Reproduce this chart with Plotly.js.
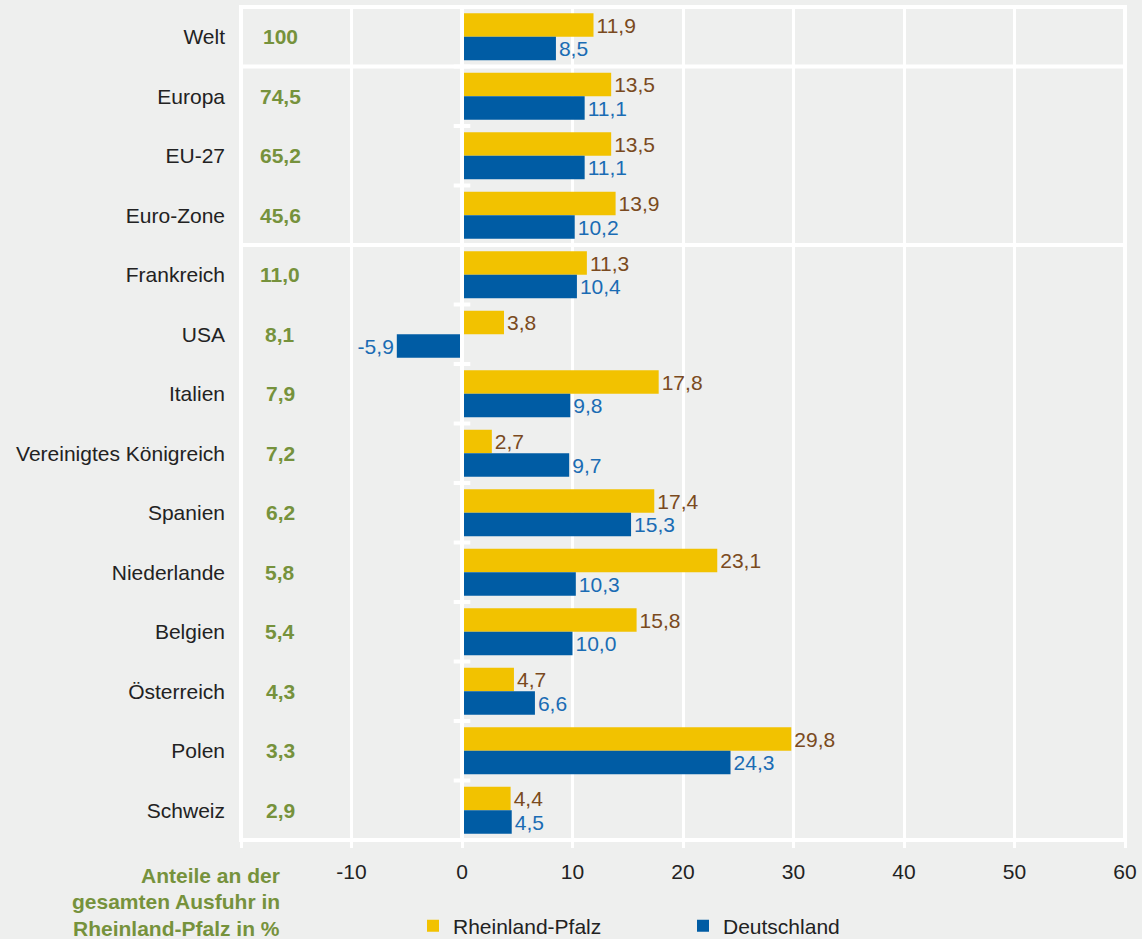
<!DOCTYPE html>
<html>
<head>
<meta charset="utf-8">
<script src="https://cdn.plot.ly/plotly-3.0.1.min.js"></script>
<style>
  html, body { margin: 0; padding: 0; background: #eeefee; }
  #chart { width: 1142px; height: 939px; }
</style>
</head>
<body>
<div id="chart"></div>
<script>
const categories = ["Welt", "Europa", "EU-27", "Euro-Zone", "Frankreich", "USA", "Italien",
  "Vereinigtes Königreich", "Spanien", "Niederlande", "Belgien", "Österreich", "Polen", "Schweiz"];
const rheinlandPfalz = [11.9, 13.5, 13.5, 13.9, 11.3, 3.8, 17.8, 2.7, 17.4, 23.1, 15.8, 4.7, 29.8, 4.4];
const deutschland = [8.5, 11.1, 11.1, 10.2, 10.4, -5.9, 9.8, 9.7, 15.3, 10.3, 10.0, 6.6, 24.3, 4.5];
const shareLabels = ["100", "74,5", "65,2", "45,6", "11,0", "8,1", "7,9", "7,2", "6,2", "5,8", "5,4", "4,3", "3,3", "2,9"];
const tickValues = [-20, -10, 0, 10, 20, 30, 40, 50, 60];
const tickLabels = ["", "-10", "0", "10", "20", "30", "40", "50", "60"];
const noteLines = ["Anteile an der", "gesamten Ausfuhr in", "Rheinland-Pfalz in %"];

const FONT = "Liberation Sans, Arial, sans-serif";
const fmt = v => v.toFixed(1).replace('.', ',');

const traces = [
  {
    type: 'bar', orientation: 'h', name: 'Rheinland-Pfalz',
    y: categories, x: rheinlandPfalz,
    marker: { color: '#f2c200' },
    text: rheinlandPfalz.map(fmt), textposition: 'outside',
    textfont: { family: FONT, size: 21, color: '#7a4a20' },
    constraintext: 'none', cliponaxis: false, hoverinfo: 'x+y'
  },
  {
    type: 'bar', orientation: 'h', name: 'Deutschland',
    y: categories, x: deutschland,
    marker: { color: '#005ca4' },
    text: deutschland.map(fmt), textposition: 'outside',
    textfont: { family: FONT, size: 21, color: '#1a6cb4' },
    constraintext: 'none', cliponaxis: false, hoverinfo: 'x+y'
  }
];

const shapes = [];
shapes.push({ type: 'rect', xref: 'paper', yref: 'paper', x0: 0, x1: 1, y0: 0, y1: 1,
  line: { color: '#ffffff', width: 4 }, layer: 'below' });
[0.5, 3.5].forEach(b => shapes.push({ type: 'line', xref: 'paper', yref: 'y', x0: 0, x1: 1, y0: b, y1: b,
  line: { color: '#ffffff', width: 4 }, layer: 'below' }));
shapes.push({ type: 'line', xref: 'x', yref: 'paper', x0: 0, x1: 0, y0: 0, y1: 1,
  line: { color: '#ffffff', width: 4 }, layer: 'above' });
for (let k = 0; k < categories.length - 1; k++) {
  shapes.push({ type: 'line', xref: 'x', yref: 'y', x0: -0.75, x1: 0.75, y0: k + 0.5, y1: k + 0.5,
    line: { color: '#ffffff', width: 4 }, layer: 'above' });
}

const annotations = categories.map((c, i) => ({
  xref: 'x', yref: 'y', x: -16.45, y: c, text: '<b>' + shareLabels[i] + '</b>',
  showarrow: false, xanchor: 'center', yanchor: 'middle',
  font: { family: FONT, size: 21, color: '#76923c' }
}));
const noteY = [875, 902, 928];
noteLines.forEach((t, i) => annotations.push({
  xref: 'paper', yref: 'paper', x: (282 - 241) / 884, y: (840 - noteY[i]) / 833,
  text: '<b>' + t + '</b>', showarrow: false, xanchor: 'right', yanchor: 'middle', align: 'right',
  font: { family: FONT, size: 21, color: '#76923c' }
}));

const layout = {
  width: 1142, height: 939,
  margin: { l: 241, r: 17, t: 7, b: 99, autoexpand: false },
  paper_bgcolor: '#eeefee', plot_bgcolor: '#eeefee',
  font: { family: FONT, size: 21, color: '#222222' },
  barmode: 'group', bargap: 0.21, bargroupgap: 0,
  showlegend: true,
  legend: {
    orientation: 'h', xref: 'paper', yref: 'paper',
    x: (413 - 241) / 884, xanchor: 'left', y: (840 - 926) / 833, yanchor: 'middle',
    font: { family: FONT, size: 21, color: '#222222' },
    bgcolor: 'rgba(0,0,0,0)', entrywidth: 225, entrywidthmode: 'pixels', traceorder: 'normal'
  },
  xaxis: {
    range: [-20, 60], tickvals: tickValues, ticktext: tickLabels,
    showgrid: true, gridcolor: '#ffffff', gridwidth: 3,
    zeroline: false, showline: false,
    ticks: 'outside', ticklen: 7, tickwidth: 3, tickcolor: '#ffffff',
    ticklabelstandoff: 6,
    tickfont: { family: FONT, size: 21, color: '#222222' },
    fixedrange: true
  },
  yaxis: {
    type: 'category', autorange: 'reversed',
    showgrid: false, zeroline: false, showline: false,
    ticks: '', ticklabelstandoff: 15,
    tickfont: { family: FONT, size: 21, color: '#222222' },
    fixedrange: true
  },
  shapes: shapes,
  annotations: annotations
};

Plotly.newPlot('chart', traces, layout, { displayModeBar: false, staticPlot: true });
</script>
</body>
</html>
